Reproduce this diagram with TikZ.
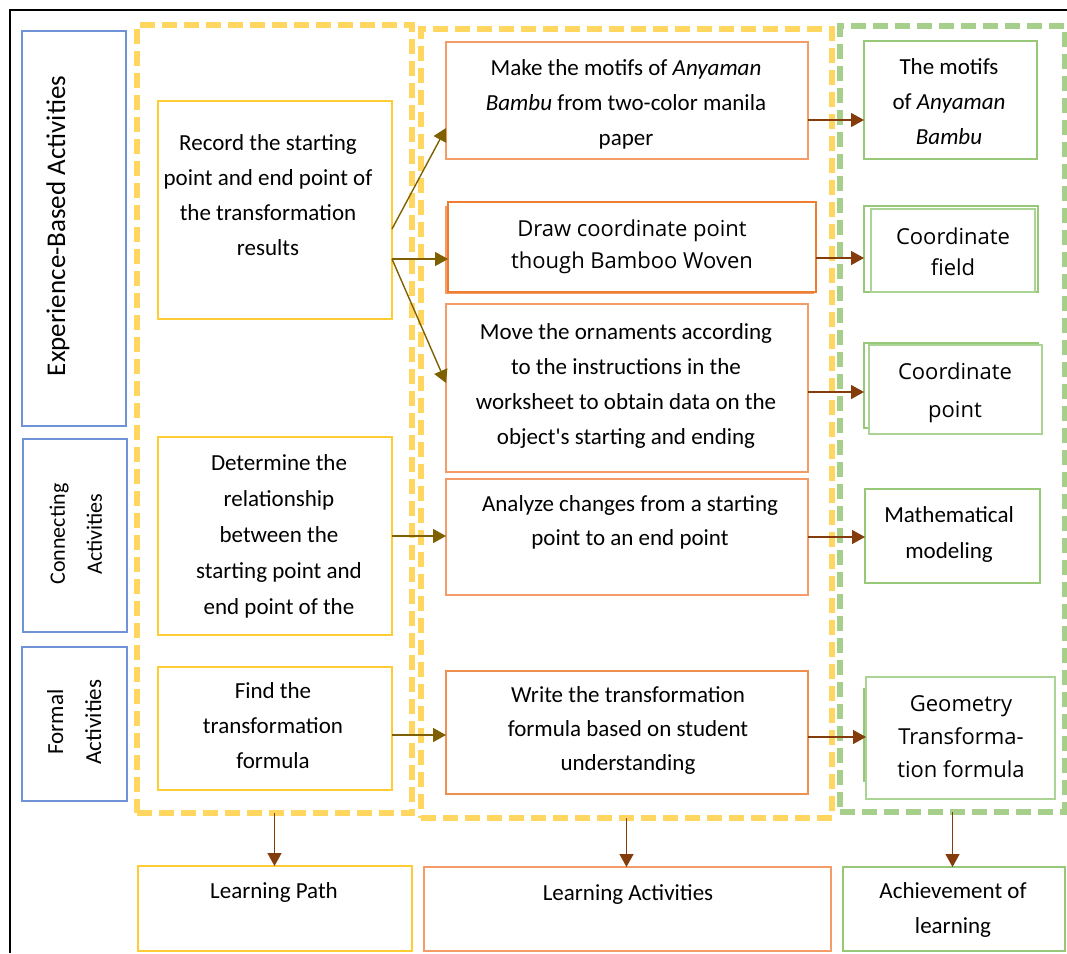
\documentclass[tikz,border=0pt]{standalone}
\usepackage{fontspec}
\setmainfont{Carlito}
\newfontfamily\osans{Open Sans}
\usetikzlibrary{arrows.meta}
\definecolor{bluec}{RGB}{112,146,214}
\definecolor{ydash}{RGB}{255,214,95}
\definecolor{ysolid}{RGB}{255,204,51}
\definecolor{olight}{RGB}{244,156,104}
\definecolor{odark}{RGB}{237,125,49}
\definecolor{gsolid}{RGB}{150,200,120}
\definecolor{gdash}{RGB}{165,207,138}
\definecolor{olivec}{RGB}{127,96,0}
\definecolor{brownc}{RGB}{132,60,12}
\begin{document}
\begin{tikzpicture}[x=1pt,y=-1pt,
  box/.style={inner sep=0pt, outer sep=0pt, line width=1.6pt},
  bbox/.style={box, draw=bluec},
  ybox/.style={box, draw=ysolid, line width=1.8pt},
  obox/.style={box, draw=olight},
  gbox/.style={box, draw=gsolid, line width=1.8pt},
  dbox/.style={inner sep=0pt, outer sep=0pt, line width=5.5pt, dash pattern=on 15pt off 7pt},
  t/.style={font=\fontsize{23}{35}\selectfont, align=center, inner sep=0pt},
  os/.style={font=\osans\fontsize{22}{32}\selectfont, align=center, inner sep=0pt},
  oarr/.style={draw=olivec, line width=1.4pt, -{Triangle[length=13pt,width=14pt]}},
  barr/.style={draw=brownc, line width=1.4pt, -{Triangle[length=13pt,width=14pt]}}]
\useasboundingbox (0,0) rectangle (1067,953);
% outer frame
\coordinate (fa) at (10,953);
\coordinate (fb) at (10,10);
\coordinate (fc) at (1067,10);
\draw[line width=2pt] (fa) -- (fb) -- (fc);
% blue side boxes
\node[bbox, minimum width=104pt, minimum height=395pt] (eba) at (74,228.5) {};
\node[bbox, minimum width=104pt, minimum height=193pt] (con) at (75,535.5) {};
\node[bbox, minimum width=105pt, minimum height=154pt] (frm) at (74.5,724) {};
\node[t, font=\fontsize{27}{35}\selectfont, rotate=90] (ebat) at (58,226) {Experience-Based Activities};
\node[t, font=\fontsize{22}{37}\selectfont, rotate=90] (cont) at (76,534) {\strut Connecting\\Activities\strut};
\node[t, font=\fontsize{23}{38}\selectfont, rotate=90] (frmt) at (74.5,722) {\strut Formal\\Activities\strut};
% dashed groups
\node[dbox, draw=ydash, minimum width=275pt, minimum height=788pt] (yb1) at (274.5,419) {};
\node[dbox, draw=ydash, minimum width=411pt, minimum height=789pt] (yb2) at (626.5,423.5) {};
\node[dbox, draw=gdash, minimum width=225pt, minimum height=786pt] (gb) at (952.5,419) {};
% yellow solid boxes
\node[ybox, minimum width=234pt, minimum height=218pt] (rec) at (275,210) {};
\node[ybox, minimum width=234pt, minimum height=198pt] (det) at (275,536) {};
\node[ybox, minimum width=234pt, minimum height=123pt] (fnd) at (275,728.5) {};
\node[t] (rect) at (268,196) {\strut Record the starting\\point and end point of\\the transformation\\results\strut};
\node[t, font=\fontsize{23}{36}\selectfont] (dett) at (279,535) {\strut Determine the\\relationship\\between the\\starting point and\\end point of the\strut};
\node[t] (fndt) at (273,726) {\strut Find the\\transformation\\formula\strut};
% orange boxes
\node[obox, minimum width=362pt, minimum height=117pt] (mk) at (627,100.5) {};
\node[box, draw=olight, minimum width=367pt, minimum height=86pt] (drwb) at (629.5,250) {};
\node[box, draw=odark, fill=white, minimum width=368pt, minimum height=90pt] (drw) at (632,247) {};
\node[obox, minimum width=362pt, minimum height=168pt] (mv) at (627,388) {};
\node[obox, minimum width=362pt, minimum height=116pt] (ana) at (627,537) {};
\node[box, draw=odark!85, minimum width=362pt, minimum height=123pt] (wr) at (627,732.5) {};
\node[t] (mkt) at (626,103) {\strut Make the motifs of \textit{Anyaman}\\\textit{Bambu} from two-color manila\\paper\strut};
\node[os] (drwt) at (632,246) {\strut Draw coordinate point\\though Bamboo Woven\strut};
\node[t] (mvt) at (626,385) {\strut Move the ornaments according\\to the instructions in the\\worksheet to obtain data on the\\object\textquotesingle s starting and ending\strut};
\node[t, font=\fontsize{23}{34}\selectfont] (anat) at (630,522) {\strut Analyze changes from a starting\\point to an end point\strut};
\node[t, font=\fontsize{23}{34}\selectfont] (wrt) at (628,730) {\strut Write the transformation\\formula based on student\\understanding\strut};
% green boxes
\node[gbox, minimum width=173pt, minimum height=118pt] (mot) at (950.5,100) {};
\node[gbox, minimum width=174pt, minimum height=86pt] (fldb) at (951,249) {};
\node[box, draw=gsolid!80, fill=white, minimum width=164pt, minimum height=83pt] (fld) at (953,250.5) {};
\node[gbox, minimum width=174pt, minimum height=85pt] (ptb) at (951,385.5) {};
\node[box, draw=gsolid!80, fill=white, minimum width=173pt, minimum height=89pt] (pt) at (955.5,389.5) {};
\node[gbox, minimum width=175pt, minimum height=94pt] (mth) at (952.5,536) {};
\coordinate (gla) at (864,688);
\coordinate (glb) at (864,782);
\draw[gsolid, line width=1.4pt] (gla) -- (glb);
\node[box, draw=gsolid!80, minimum width=189pt, minimum height=122pt] (geo) at (960.5,738) {};
\node[t] (mott) at (949,102) {\strut The motifs\\of \textit{Anyaman}\\\textit{Bambu}\strut};
\node[os, font=\osans\fontsize{22}{31}\selectfont] (fldt) at (953,253.5) {\strut Coordinate\\field\strut};
\node[os, font=\osans\fontsize{22}{38}\selectfont] (ptt) at (955,391) {\strut Coordinate\\point\strut};
\node[t, font=\fontsize{23}{36}\selectfont] (mtht) at (949,533) {\strut Mathematical\\modeling\strut};
\node[os, font=\osans\fontsize{22}{33}\selectfont] (geot) at (961,737.5) {\strut Geometry\\Transforma-\\tion formula\strut};
% bottom boxes
\node[box, draw=ysolid, minimum width=274pt, minimum height=85pt] (lp) at (275,908.5) {};
\node[obox, minimum width=407pt, minimum height=84pt] (la) at (627.5,909) {};
\node[gbox, minimum width=222pt, minimum height=84pt] (ach) at (954,909) {};
\node[t] (lpt) at (274,891) {\strut Learning Path\strut};
\node[t] (lat) at (628,893) {\strut Learning Activities\strut};
\node[t] (acht) at (953,909) {\strut Achievement of\\learning\strut};
% arrows: learning path -> activities
\draw[oarr] ([yshift=-19pt]rec.east) -- ([yshift=-27.5pt]mk.west);
\draw[oarr] ([yshift=-49pt]rec.east) -- ([yshift=-49pt]rec.east -| drw.west);
\draw[oarr] ([yshift=-49pt]rec.east) -- ([yshift=5pt]mv.west);
\draw[oarr] (det.east) -- (det.east -| ana.west);
\draw[oarr] ([yshift=-6.5pt]fnd.east) -- ([yshift=-6.5pt]fnd.east -| wr.west);
% arrows: activities -> achievements
\draw[barr] ([yshift=-19.5pt]mk.east) -- ([yshift=-19.5pt]mk.east -| mot.west);
\draw[barr] ([yshift=-11pt]drw.east) -- ([yshift=-11pt]drw.east -| fldb.west);
\draw[barr] ([yshift=-4pt]mv.east) -- ([yshift=-4pt]mv.east -| ptb.west);
\draw[barr] (ana.east) -- (ana.east -| mth.west);
\draw[barr] ([yshift=-4.5pt]wr.east) -- ([yshift=-4.5pt]wr.east -| geo.west);
% arrows: groups -> bottom labels
\draw[barr] (yb1.south) -- (yb1.south |- lp.north);
\draw[barr] (yb2.south) -- (yb2.south |- la.north);
\draw[barr] (gb.south) -- (gb.south |- ach.north);
\end{tikzpicture}
\end{document}
